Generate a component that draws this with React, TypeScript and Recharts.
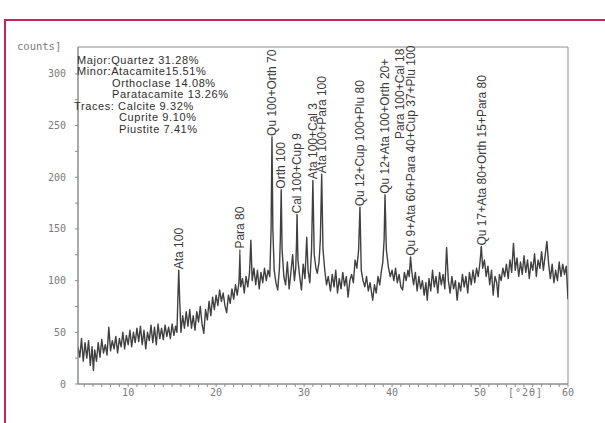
import { LineChart, Line, XAxis, YAxis, ReferenceArea, ReferenceDot, ReferenceLine } from 'recharts';

// XRD scan, [°2θ, counts] in pieces
const lowAngleScan: [number, number][] = [
  [4.3, 36], [4.5, 26], [4.7, 44], [4.9, 22], [5.1, 40], [5.3, 25], [5.5, 42], [5.7, 18], [5.9, 36], [6.05, 13],
  [6.2, 33], [6.4, 22], [6.6, 40], [6.8, 26], [7.0, 43], [7.2, 30], [7.4, 38], [7.6, 28], [7.8, 55], [8.0, 32],
  [8.2, 42], [8.4, 34], [8.6, 46], [8.8, 30], [9.0, 44], [9.2, 36], [9.4, 50], [9.6, 34], [9.8, 47], [10.0, 38],
  [10.2, 52], [10.4, 36], [10.6, 50], [10.8, 40], [11.0, 54], [11.2, 41], [11.4, 56], [11.6, 38], [11.8, 52], [12.0, 34],
  [12.2, 50], [12.4, 42], [12.6, 57], [12.8, 40], [13.0, 55], [13.2, 38], [13.4, 58], [13.6, 44], [13.8, 54], [14.0, 43],
  [14.2, 57], [14.4, 46], [14.6, 55], [14.8, 44], [15.0, 58], [15.2, 47], [15.4, 56], [15.55, 50], [15.65, 82], [15.75, 110],
  [15.85, 84], [16.0, 50], [16.2, 66], [16.4, 54],
];

const midAngleScan: [number, number][] = [
  [16.6, 70], [16.8, 56], [17.0, 72], [17.2, 54], [17.4, 66], [17.6, 52], [17.8, 70], [18.0, 60], [18.2, 75], [18.4, 58],
  [18.6, 49], [18.8, 72], [19.0, 62], [19.2, 80], [19.4, 66], [19.6, 84], [19.8, 72], [20.0, 86], [20.2, 76], [20.4, 91],
  [20.6, 80], [20.8, 88], [21.0, 76], [21.2, 69], [21.4, 86], [21.6, 78], [21.8, 92], [22.0, 82], [22.2, 96], [22.4, 86],
  [22.6, 98], [22.7, 124], [22.8, 94], [23.0, 102], [23.2, 88], [23.4, 104], [23.6, 94], [23.8, 108], [23.95, 139], [24.1, 100],
  [24.3, 112], [24.5, 96], [24.7, 110], [24.9, 92], [25.1, 108], [25.3, 98], [25.5, 112], [25.7, 100], [25.9, 110], [26.1, 104],
];

const peakScan: [number, number][] = [
  [26.25, 150], [26.35, 239], [26.45, 150], [26.6, 110], [26.8, 98], [27.0, 91], [27.2, 112], [27.3, 140], [27.4, 188], [27.5, 130],
  [27.7, 104], [27.9, 96], [28.1, 118], [28.3, 92], [28.5, 108], [28.7, 125], [28.9, 100], [29.05, 112], [29.15, 140], [29.2, 164],
  [29.3, 120], [29.5, 104], [29.7, 91], [29.9, 116], [30.1, 102], [30.3, 142], [30.45, 110], [30.65, 98], [30.85, 130], [31.0, 197],
  [31.15, 125], [31.35, 112], [31.5, 107], [31.7, 118], [31.85, 140], [32.0, 203], [32.15, 130], [32.35, 110], [32.55, 96], [32.75, 104],
];

const highAngleScan: [number, number][] = [
  [33.0, 90], [33.2, 106], [33.4, 94], [33.6, 110], [33.8, 88], [34.0, 102], [34.2, 92], [34.4, 108], [34.6, 95], [34.8, 104],
  [35.0, 84], [35.2, 100], [35.4, 106], [35.6, 98], [35.8, 120], [36.0, 112], [36.2, 130], [36.35, 171], [36.5, 110], [36.7, 100],
  [36.9, 94], [37.1, 104], [37.3, 90], [37.5, 98], [37.8, 81], [38.0, 96], [38.2, 88], [38.4, 104], [38.6, 96], [38.8, 110],
  [38.95, 118], [39.1, 140], [39.2, 183], [39.35, 130], [39.6, 112], [39.8, 104], [40.0, 110], [40.2, 100], [40.4, 112], [40.6, 98],
  [40.8, 106], [41.0, 94], [41.2, 91], [41.4, 108], [41.6, 100], [41.8, 110], [41.95, 104], [42.1, 123], [42.25, 108], [42.45, 96],
  [42.65, 108], [42.85, 90], [43.05, 104], [43.25, 92], [43.45, 100], [43.65, 86], [43.85, 98], [44.0, 81], [44.2, 102], [44.4, 90],
  [44.6, 110], [44.8, 94], [45.0, 104], [45.2, 88], [45.4, 108], [45.6, 96], [45.8, 106], [46.0, 92],
];

const tailScan: [number, number][] = [
  [46.2, 132], [46.4, 100], [46.6, 88], [46.8, 104], [47.0, 92], [47.2, 100], [47.4, 81], [47.6, 98], [47.8, 90], [48.0, 106],
  [48.2, 94], [48.4, 104], [48.6, 88], [48.8, 108], [49.0, 96], [49.2, 110], [49.4, 98], [49.6, 112], [49.8, 104], [50.0, 118],
  [50.15, 133], [50.3, 112], [50.5, 120], [50.7, 104], [50.9, 114], [51.1, 96], [51.3, 110], [51.5, 86], [51.7, 104], [51.9, 98],
  [52.05, 84], [52.2, 106], [52.4, 100], [52.6, 112], [52.8, 104], [53.0, 116], [53.2, 102], [53.4, 120], [53.6, 108], [53.8, 136],
  [54.0, 110], [54.2, 122], [54.4, 104], [54.6, 118], [54.8, 106], [55.0, 124], [55.2, 108], [55.4, 120], [55.6, 102], [55.8, 118],
  [56.0, 110], [56.2, 126], [56.4, 104], [56.6, 120], [56.8, 112], [57.0, 128], [57.2, 110], [57.4, 124], [57.6, 138], [57.8, 116],
  [58.0, 102], [58.2, 116], [58.4, 98], [58.6, 110], [58.8, 100], [59.0, 118], [59.2, 104], [59.4, 116], [59.6, 106], [59.8, 114],
  [60.0, 82],
];

// peak annotations: angle, peak top, where the label text starts (counts), text
const peakAngles = [15.75, 22.7, 26.35, 27.4, 29.2, 31.0, 32.0, 36.35, 39.2, 40.9, 42.1, 50.15];
const peakTops = [110, 124, 239, 188, 164, 197, 203, 171, 183, 236, 123, 128];
const labelStarts = [110, 130, 239, 188, 164, 197, 203, 171, 183, 236, 123, 133];
const peakNames = [
  'Ata 100',
  'Para 80',
  'Qu 100+Orth 70',
  'Orth 100',
  'Cal 100+Cup 9',
  'Ata 100+Cal 3',
  'Ata 100+Para 100',
  'Qu 12+Cup 100+Plu 80',
  'Qu 12+Ata 100+Orth 20+',
  'Para 100+Cal 18',
  'Qu 9+Ata 60+Para 40+Cup 37+Plu 100',
  'Qu 17+Ata 80+Orth 15+Para 80',
];

const phaseLines = [
  'Major:Quartez 31.28%',
  'Minor:Atacamite15.51%',
  'Orthoclase 14.08%',
  'Paratacamite 13.26%',
  'Traces: Calcite 9.32%',
  'Cuprite 9.10%',
  'Piustite 7.41%',
];
const phaseIndent = [77, 77, 112, 112, 74, 119, 119];
const phaseTop = [54.5, 66, 77.5, 89, 100.5, 112, 123.5];

const xTicks = [
  5, 6, 7, 8, 9, 10, 11, 12, 13, 14, 15, 16, 17, 18, 19, 20, 21, 22, 23, 24, 25, 26, 27, 28, 29, 30, 31, 32,
  33, 34, 35, 36, 37, 38, 39, 40, 41, 42, 43, 44, 45, 46, 47, 48, 49, 50, 51, 52, 53, 54, 55, 56, 57, 58, 59, 60,
];
const xLabels = [10, 20, 30, 40, 50, 60];
const yTicks = [0, 25, 50, 75, 100, 125, 150, 175, 200, 225, 250, 275, 300];
const yLabels = [0, 50, 100, 150, 200, 250, 300];

const scan = [...lowAngleScan, ...midAngleScan, ...peakScan, ...highAngleScan, ...tailScan].map(
  ([angle, counts]) => ({ angle, counts })
);

const TICK_FONT = 'DejaVu Sans Mono, monospace';
const TEXT_FONT = 'Liberation Sans, Arial, sans-serif';

function XTick({ x, y, payload }: any) {
  if (!xLabels.includes(payload.value)) return <g />;
  return (
    <text x={x} y={y} dy="0.71em" textAnchor="middle" fontSize={10} fill="#7a7a7a" fontFamily={TICK_FONT}>
      {payload.value}
    </text>
  );
}

function YTick({ x, y, payload }: any) {
  if (!yLabels.includes(payload.value)) return <g />;
  return (
    <text x={x} y={y} dy="0.35em" textAnchor="end" fontSize={10} fill="#7a7a7a" fontFamily={TICK_FONT}>
      {payload.value}
    </text>
  );
}

function peakLabel(text: string) {
  return (props: any) => {
    const vb = props.viewBox || {};
    const x = vb.x ?? props.x;
    const y = vb.y ?? props.y;
    return (
      <text
        x={x}
        y={y}
        dx={1}
        dy="0.35em"
        transform={`rotate(-90 ${x} ${y})`}
        fontSize={12}
        fill="#3a3a3a"
        fontFamily={TEXT_FONT}
      >
        {text}
      </text>
    );
  };
}

export default function App() {
  return (
    <div style={{ position: 'absolute', left: 0, top: 0, width: 605, height: 423, background: '#fff' }}>
      <div
        style={{
          position: 'absolute',
          left: 4,
          top: 19,
          width: 601,
          height: 404,
          borderLeft: '2px solid #c2245f',
          borderTop: '2px solid #c2245f',
          boxSizing: 'border-box',
        }}
      />
      <LineChart width={605} height={423} data={scan} margin={{ top: 47, right: 37, bottom: 14, left: 38 }}>
        <ReferenceArea x1={4.3} x2={60} y1={0} y2={326} fill="none" stroke="#8c8c8c" strokeWidth={1} />
        <XAxis
          dataKey="angle"
          type="number"
          domain={[4.3, 60]}
          ticks={xTicks}
          allowDataOverflow
          height={25}
          tickSize={3}
          tickMargin={2}
          interval={0}
          axisLine={{ stroke: '#8c8c8c' }}
          tickLine={{ stroke: '#8c8c8c' }}
          tick={<XTick />}
        />
        <YAxis
          type="number"
          domain={[0, 326]}
          ticks={yTicks}
          allowDataOverflow
          width={40}
          tickSize={3}
          tickMargin={9}
          interval={0}
          axisLine={{ stroke: '#8c8c8c' }}
          tickLine={{ stroke: '#8c8c8c' }}
          tick={<YTick />}
        />
        <Line
          type="linear"
          dataKey="counts"
          stroke="#404040"
          strokeWidth={1.4}
          strokeLinejoin="round"
          dot={false}
          isAnimationActive={false}
        />
        {peakAngles.map((a, i) =>
          labelStarts[i] > peakTops[i] ? (
            <ReferenceLine
              key={`c${i}`}
              segment={[
                { x: a, y: peakTops[i] },
                { x: a, y: labelStarts[i] },
              ]}
              stroke="#404040"
              strokeWidth={1.2}
            />
          ) : null
        )}
        {peakAngles.map((a, i) => (
          <ReferenceDot
            key={`p${i}`}
            x={a}
            y={labelStarts[i]}
            r={0}
            fill="none"
            stroke="none"
            label={peakLabel(peakNames[i])}
          />
        ))}
      </LineChart>
      {phaseLines.map((t, i) => (
        <div
          key={t}
          style={{
            position: 'absolute',
            left: phaseIndent[i],
            top: phaseTop[i],
            fontFamily: TEXT_FONT,
            fontSize: 11,
            lineHeight: '11px',
            letterSpacing: 0.6,
            color: '#2e2e2e',
            whiteSpace: 'nowrap',
          }}
        >
          {t}
        </div>
      ))}
      <div
        style={{
          position: 'absolute',
          left: 17,
          top: 40,
          fontFamily: TICK_FONT,
          fontSize: 10.5,
          lineHeight: '12px',
          color: '#7a7a7a',
          whiteSpace: 'nowrap',
        }}
      >
        counts]
      </div>
      <div
        style={{
          position: 'absolute',
          left: 508,
          top: 387,
          fontFamily: TICK_FONT,
          fontSize: 10,
          lineHeight: '12px',
          color: '#7a7a7a',
          letterSpacing: 1,
          whiteSpace: 'nowrap',
        }}
      >
        [°2θ]
      </div>
    </div>
  );
}
